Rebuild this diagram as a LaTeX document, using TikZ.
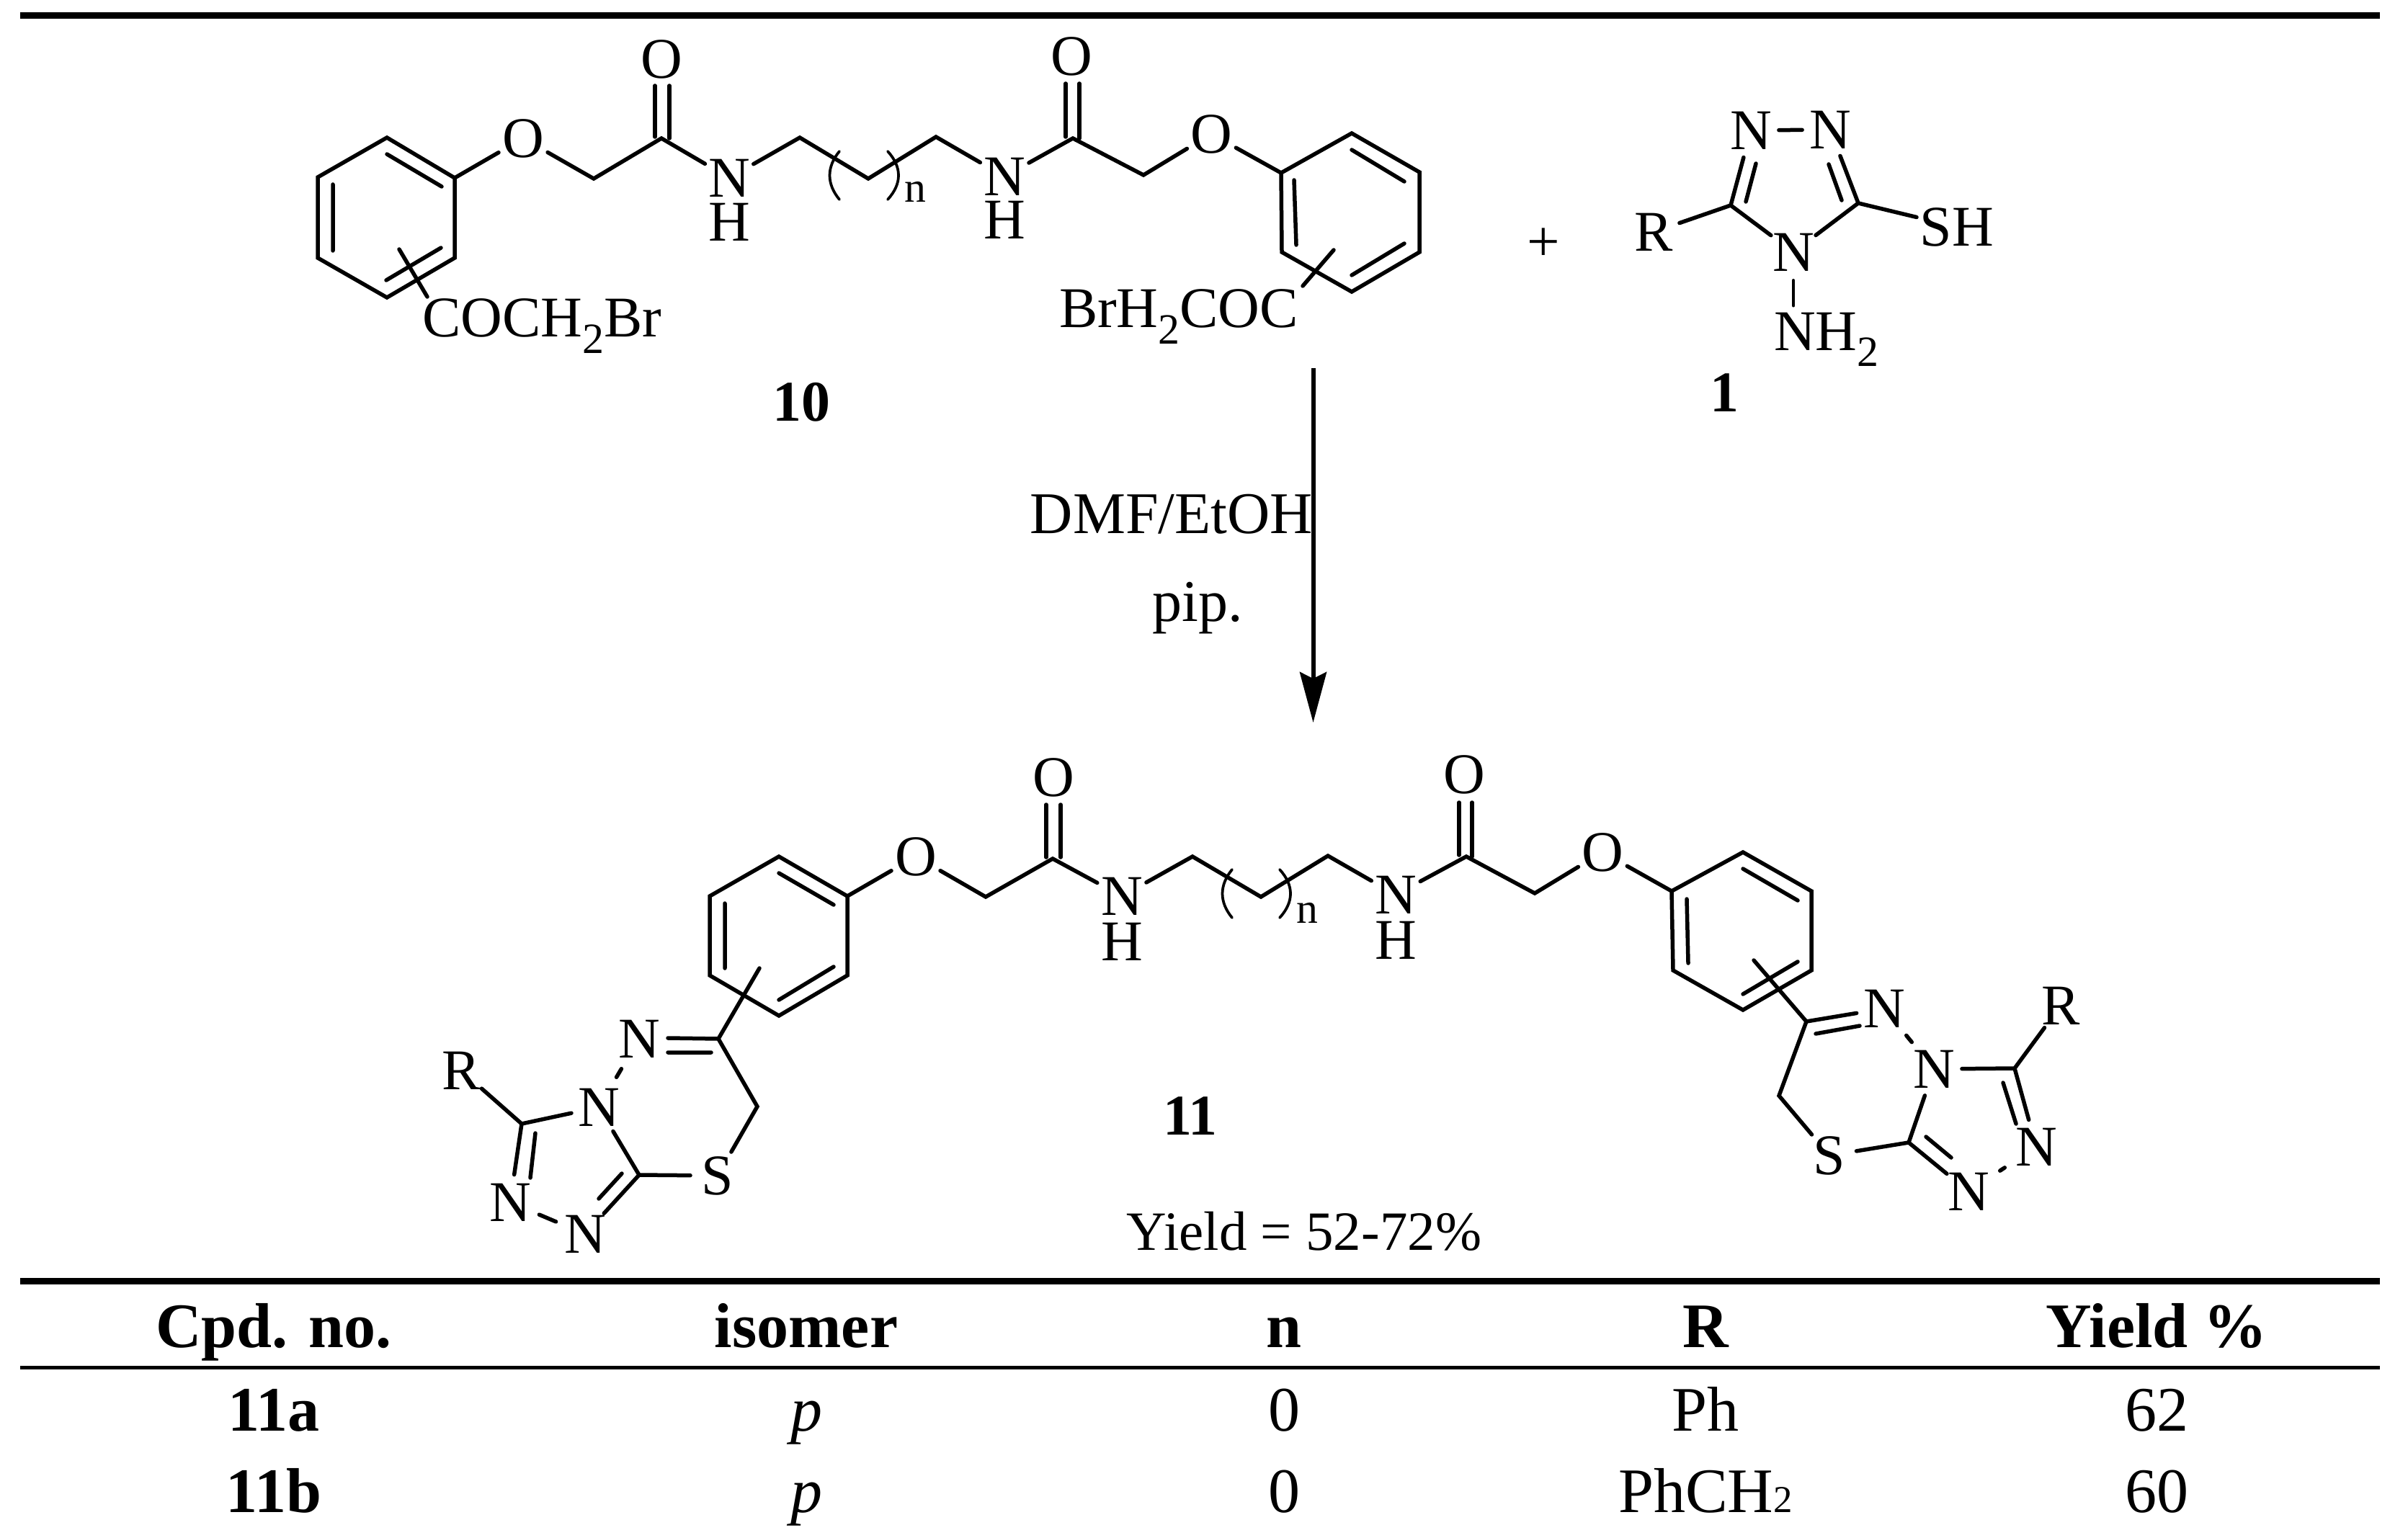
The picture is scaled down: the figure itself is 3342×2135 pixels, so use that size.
\documentclass[tikz,border=0pt]{standalone}
\usepackage{fontspec}
\setmainfont{Liberation Serif}
\usetikzlibrary{arrows.meta}
\newcommand\chemfs{\fontsize{45.5}{52}\selectfont}
\newcommand\tabfs{\fontsize{50.1}{58}\selectfont}
\newcommand\chsub[1]{\raisebox{-0.28em}{\scalebox{.75}{#1}}}
\newcommand\tabsub[1]{\scalebox{.6}{#1}}
\tikzset{
  bond/.style={line width=0.11cm,line cap=round,line join=miter},
  thinbond/.style={line width=0.075cm,line cap=round},
  rulethick/.style={line width=0.18cm},
  rulethin/.style={line width=0.10cm},
  atom/.style={circle,inner sep=0pt,outer sep=0pt,minimum size=1.52cm,font=\chemfs},
  chemtext/.style={inner sep=0pt,outer sep=0pt,font=\chemfs},
  yieldtext/.style={inner sep=0pt,outer sep=0pt,font=\fontsize{43.8}{50}\selectfont},
  tabtext/.style={inner sep=0pt,outer sep=0pt,anchor=base,font=\tabfs},
  tabhead/.style={tabtext,font=\tabfs\bfseries},
  condtext/.style={inner sep=0pt,outer sep=0pt,font=\fontsize{46.7}{54}\selectfont},
  cpd/.style={inner sep=0pt,outer sep=0pt,font=\chemfs\bfseries},
  dashn/.style={bond,shorten <=0.19cm,shorten >=0.19cm},
  dashw/.style={bond,shorten <=0.27cm,shorten >=0.27cm},
}
\begin{document}
\begin{tikzpicture}[x=0.02cm,y=-0.02cm]
\useasboundingbox (0,0) rectangle (3342,2135);
% rules
\coordinate (r1a) at (28,22); \coordinate (r1b) at (3303,22);
\coordinate (r2a) at (28,1778); \coordinate (r2b) at (3303,1778);
\coordinate (r3a) at (28,1898); \coordinate (r3b) at (3303,1898);
\draw[rulethick] (r1a) -- (r1b);
\draw[rulethick] (r2a) -- (r2b);
\draw[rulethin] (r3a) -- (r3b);

%%%%%% compound 10
\coordinate (a1) at (537,191);\coordinate (a2) at (631,247);\coordinate (a3) at (631,358);
\coordinate (a4) at (537,413);\coordinate (a5) at (441,358);\coordinate (a6) at (441,246);
\draw[bond] (a1)--(a2)--(a3)--(a4)--(a5)--(a6)--cycle;
\draw[bond] (537,214)--(613,259) (462,256)--(462,348) (612,344)--(536,389);
\node[atom] (ao) at (726,192) {O};
\coordinate (ac1) at (824,248);\coordinate (ac2) at (918,192);
\node[atom] (ao2) at (918,82) {O};
\node[atom] (an1) at (1012,247) {N};
\node[chemtext] (ah1) at (1012,308) {H};
\coordinate (ac3) at (1110,191);\coordinate (ac4) at (1205,248);\coordinate (ac5) at (1299,190);
\node[atom] (an2) at (1394,245) {N};
\node[chemtext] (ah2) at (1394,305) {H};
\coordinate (ac6) at (1489,192);
\node[atom] (ao3) at (1487,78) {O};
\coordinate (ac7) at (1587,243);
\node[atom] (ao4) at (1681,186) {O};
\draw[bond] (a2)--(ao) (ao)--(ac1)--(ac2)--(an1) (an1)--(ac3)--(ac4)--(ac5)--(an2) (an2)--(ac6)--(ac7)--(ao4);
\draw[bond] (909,119)--(909,190) (929,119)--(929,192);
\draw[bond] (1479,116)--(1479,190) (1498,116)--(1498,192);
\draw[thinbond] (1165,210) .. controls (1147,232) and (1147,255) .. (1165,277);
\draw[thinbond] (1232,210) .. controls (1252,232) and (1252,255) .. (1232,277);
\node[inner sep=0pt,font=\fontsize{34}{40}\selectfont] (an) at (1270,266) {n};
\coordinate (b1) at (1778,240);\coordinate (b2) at (1876,185);\coordinate (b3) at (1970,239);
\coordinate (b4) at (1970,350);\coordinate (b5) at (1876,405);\coordinate (b6) at (1779,350);
\draw[bond] (ao4)--(b1);
\draw[bond] (b1)--(b2)--(b3)--(b4)--(b5)--(b6)--cycle;
\draw[bond] (1876,208)--(1949,252) (1796,250)--(1799,340) (1949,338)--(1876,382);
\node[chemtext,anchor=base west] (cb1) at (586,468) {COCH\chsub{2}Br};
\coordinate (s1) at (554,346);
\draw[bond] (s1)--(593,412);
\node[chemtext,anchor=base east] (cb2) at (1802,455) {BrH\chsub{2}COC};
\coordinate (s2) at (1851,347);
\draw[bond] (s2)--(1808,397);
\node[cpd] (l10) at (1112,558) {10};
\node[font=\fontsize{46}{52}\selectfont,inner sep=0pt] (plus) at (2142,340) {+};

%%%%%% compound 1
\node[atom] (tn1) at (2430,181) {N};
\node[atom] (tn2) at (2540,180) {N};
\coordinate (tc1) at (2402,285);\coordinate (tc2) at (2579,282);
\node[atom] (tn3) at (2489,350) {N};
\node[atom] (tr) at (2295,322) {R};
\node[atom] (tsh) at (2716,315) {SH};
\node[chemtext,anchor=base west] (tnh) at (2462,486) {NH\chsub{2}};
\draw[bond] (tn1)--(tn2);
\draw[bond] (tn1)--(tc1)--(tn3) (tn2)--(tc2)--(tn3) (tr)--(tc1) (tc2)--(tsh);
\draw[bond] (2437,227)--(2423,280) (2538,228)--(2556,278);
\draw[thinbond,shorten >=0.18cm] (tn3)--(tn3|-tnh.north);
\node[cpd] (l1) at (2393,545) {1};

%%%%%% arrow
\coordinate (ar1) at (1822.5,511);\coordinate (ar2) at (1822.5,1003);
\draw[line width=0.12cm,-{Stealth[length=1.4cm,width=0.74cm,inset=0.18cm]}] (ar1)--(ar2);
\node[condtext] (c1) at (1626,714) {DMF/EtOH};
\node[condtext] (c2) at (1662,844) {pip.};

%%%%%% compound 11 centre and left
\coordinate (d1) at (1081,1189);\coordinate (d2) at (1176,1244);\coordinate (d3) at (1176,1354);
\coordinate (d4) at (1081,1410);\coordinate (d5) at (985,1354);\coordinate (d6) at (985,1244);
\draw[bond] (d1)--(d2)--(d3)--(d4)--(d5)--(d6)--cycle;
\draw[bond] (1081,1212)--(1157,1256) (1006,1254)--(1006,1344) (1157,1342)--(1081,1388);
\node[atom] (do1) at (1271,1189) {O};
\coordinate (dc1) at (1368,1245);\coordinate (dc2) at (1461,1192);
\node[atom] (do2) at (1462,1079) {O};
\node[atom] (dn1) at (1557,1244) {N};
\node[chemtext] (dh1) at (1557,1307) {H};
\coordinate (dc3) at (1655,1189);\coordinate (dc4) at (1750,1245);\coordinate (dc5) at (1843,1188);
\node[atom] (dn2) at (1937,1242) {N};
\node[chemtext] (dh2) at (1937,1305) {H};
\coordinate (dc6) at (2035,1189);
\node[atom] (do3) at (2032,1075) {O};
\coordinate (dc7) at (2130,1240);
\node[atom] (do4) at (2224,1183) {O};
\draw[bond] (d2)--(do1) (do1)--(dc1)--(dc2)--(dn1) (dn1)--(dc3)--(dc4)--(dc5)--(dn2) (dn2)--(dc6)--(dc7)--(do4);
\draw[bond] (1452,1117)--(1452,1190) (1472,1117)--(1472,1190);
\draw[bond] (2025,1114)--(2025,1187) (2043,1114)--(2043,1189);
\draw[thinbond] (1710,1207) .. controls (1692,1229) and (1692,1252) .. (1710,1274);
\draw[thinbond] (1776,1207) .. controls (1796,1229) and (1796,1252) .. (1776,1274);
\node[inner sep=0pt,font=\fontsize{34}{40}\selectfont] (dn) at (1814,1267) {n};
% left heterocycle
\coordinate (e1) at (997,1442);\coordinate (e1s) at (1054,1344);
\coordinate (e2) at (1051,1536);
\node[atom] (es) at (996,1632) {S};
\coordinate (e3) at (887,1631);
\node[atom] (en1) at (831,1537) {N};
\node[atom] (en2) at (887,1442) {N};
\coordinate (e4) at (724,1560);
\node[atom] (er) at (640,1486) {R};
\node[atom] (en3) at (708,1669) {N};
\node[atom] (en4) at (812,1713) {N};
\draw[bond] (e1s)--(e1)--(e2)--(es) (es)--(e3)--(en1) (en1)--(e4)--(en3) (e4)--(er) (e3)--(en4);
\draw[dashn] (en2)--(en1);
\draw[bond,shorten <=0.1cm,shorten >=0.1cm] (en3)--(en4);
\draw[bond] (927,1441)--(e1) (927,1461)--(987,1461);
\draw[bond] (743,1573)--(736,1635) (863,1629)--(831,1664);

% right ring
\coordinate (f1) at (2320,1237);\coordinate (f2) at (2419,1183);\coordinate (f3) at (2514,1237);
\coordinate (f4) at (2514,1347);\coordinate (f5) at (2419,1402);\coordinate (f6) at (2322,1347);
\draw[bond] (do4)--(f1);
\draw[bond] (f1)--(f2)--(f3)--(f4)--(f5)--(f6)--cycle;
\draw[bond] (2419,1206)--(2495,1250) (2341,1248)--(2343,1337) (2495,1335)--(2419,1380);
% right heterocycle
\coordinate (g1) at (2507,1418);\coordinate (g1s) at (2434,1333);
\node[atom] (gn1) at (2615,1400) {N};
\coordinate (g2) at (2469,1521);
\node[atom] (gs) at (2539,1604) {S};
\coordinate (g3) at (2649,1586);
\node[atom] (gn2) at (2684,1484) {N};
\coordinate (g4) at (2796,1483);
\node[atom] (gr) at (2860,1396) {R};
\node[atom] (gn3) at (2826,1592) {N};
\node[atom] (gn4) at (2732,1654) {N};
\draw[bond] (g1s)--(g1)--(g2)--(gs) (gs)--(g3)--(gn2) (gn2)--(g4)--(gn3) (g4)--(gr) (g3)--(gn4) (g1)--(gn1);
\draw[dashn] (gn1)--(gn2);
\draw[dashw] (gn3)--(gn4);
\draw[bond] (2520,1435)--(2581,1424) (2780,1503)--(2798,1560) (2673,1578)--(2708,1607);
\node[cpd] (l11) at (1652,1549) {11};
\node[yieldtext] (yld) at (1810,1709) {Yield = 52-72\%};

%%%%%% table
\node[tabhead] (h1) at (380,1870) {Cpd. no.};
\node[tabhead] (h2) at (1119,1870) {isomer};
\node[tabhead] (h3) at (1782,1870) {n};
\node[tabhead] (h4) at (2367,1870) {R};
\node[tabhead] (h5) at (2993,1870) {Yield \%};
\node[tabhead] (a11) at (380,1986) {11a};
\node[tabtext] (a12) at (1119,1986) {\itshape p};
\node[tabtext] (a13) at (1782,1986) {0};
\node[tabtext] (a14) at (2367,1986) {Ph};
\node[tabtext] (a15) at (2993,1986) {62};
\node[tabhead] (b11) at (380,2099) {11b};
\node[tabtext] (b12) at (1119,2099) {\itshape p};
\node[tabtext] (b13) at (1782,2099) {0};
\node[tabtext] (b14) at (2367,2099) {PhCH\tabsub{2}};
\node[tabtext] (b15) at (2993,2099) {60};
\end{tikzpicture}
\end{document}
